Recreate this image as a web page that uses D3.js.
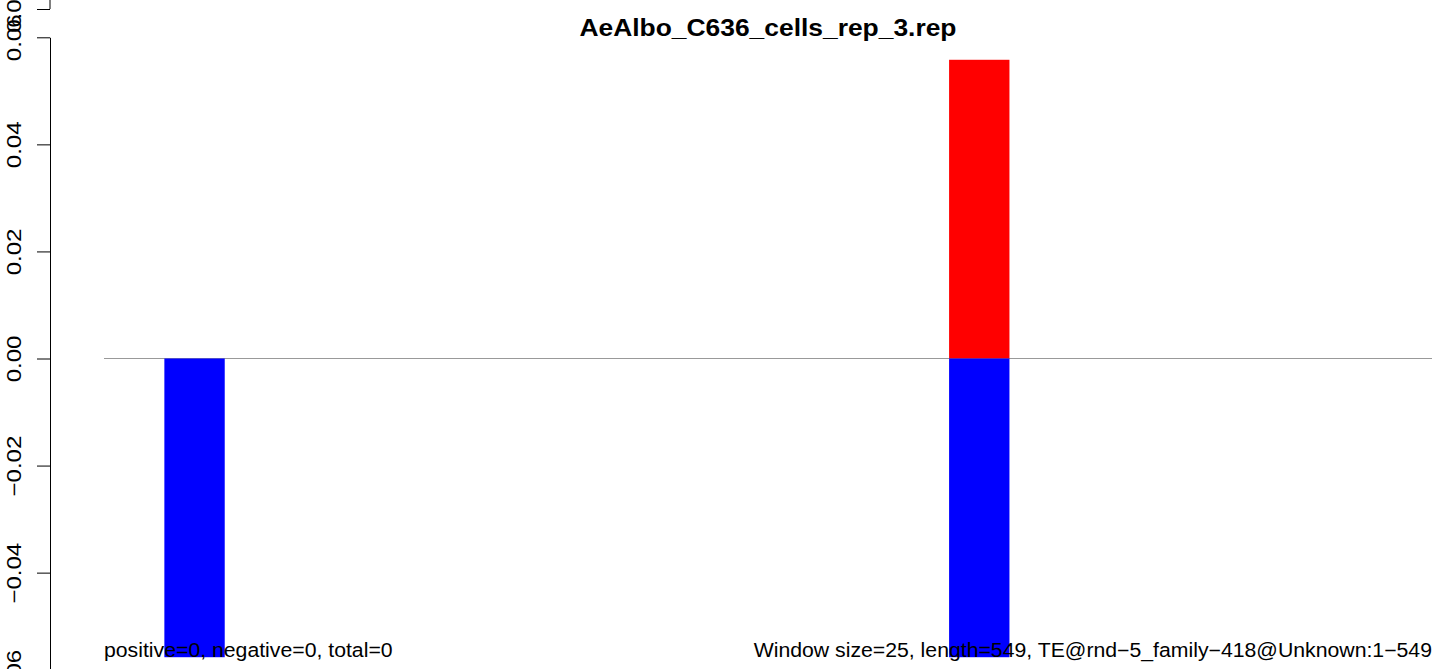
<!DOCTYPE html>
<html>
<head>
<meta charset="utf-8">
<script src="https://cdn.jsdelivr.net/npm/d3@7"></script>
<style>
html,body{margin:0;padding:0;background:#fff;}
svg{display:block;}
text{font-family:"Liberation Sans",Arial,Helvetica,sans-serif;fill:#000;}
</style>
</head>
<body>
<svg id="chart" width="1433" height="669"></svg>
<script>
// ---- data ----
const title = "AeAlbo_C636_cells_rep_3.rep";
const windowSize = 25;
const teLength = 550;
// window start positions along the TE
const windowStarts = [25, 350];
// positive (sense) and negative (antisense) values per window
const positiveValues = [0, 0.0558];
const negativeValues = [-0.0558, -0.0558];
const yTicks = [-0.06, -0.04, -0.02, 0.00, 0.02, 0.04, 0.06];
const prevPanelTicks = [0.06];
const leftNote = "positive=0, negative=0, total=0";
const rightNote = "Window size=25, length=549, TE@rnd\u22125_family\u2212418@Unknown:1\u2212549";

// ---- layout ----
const svg = d3.select("#chart");
const plotLeft = 104, plotRight = 1432;
const x = d3.scaleLinear().domain([0, teLength]).range([plotLeft, plotRight]);
const y = d3.scaleLinear().domain([-0.06, 0.06]).range([679.7, 37.3]);
// remnant axis of the panel above (only its lowest tick is visible)
const yPrev = d3.scaleLinear().domain([-0.06, 0.06]).range([651.4, 9]);

const fmt = v => (v < 0 ? "\u2212" : "") + Math.abs(v).toFixed(2);

// zero line
svg.append("line")
  .attr("x1", plotLeft).attr("x2", plotRight)
  .attr("y1", y(0)).attr("y2", y(0))
  .attr("stroke", "#999").attr("stroke-width", 1.2);

// bars
const bars = windowStarts.map((s, i) => ({s, pos: positiveValues[i], neg: negativeValues[i]}));
svg.append("g").selectAll("rect.pos").data(bars.filter(d => d.pos > 0)).join("rect")
  .attr("x", d => x(d.s)).attr("width", d => x(d.s + windowSize) - x(d.s))
  .attr("y", d => y(d.pos)).attr("height", d => y(0) - y(d.pos))
  .attr("fill", "#FF0000");
svg.append("g").selectAll("rect.neg").data(bars.filter(d => d.neg < 0)).join("rect")
  .attr("x", d => x(d.s)).attr("width", d => x(d.s + windowSize) - x(d.s))
  .attr("y", y(0)).attr("height", d => y(d.neg) - y(0))
  .attr("fill", "#0000FF");

// y axis
function drawAxis(scale, ticks, clipTop) {
  const g = svg.append("g").attr("transform", "translate(50,0)");
  g.call(d3.axisLeft(scale).tickValues(ticks).tickSize(13).tickSizeOuter(0).tickFormat(""));
  g.select(".domain").attr("stroke", "#000").attr("stroke-width", 1);
  g.selectAll(".tick line").attr("stroke", "#000").attr("stroke-width", 1);
  g.selectAll(".tick").append("text")
    .attr("transform", "translate(-29.5,0) rotate(-90) scale(1.2,1)")
    .attr("text-anchor", "middle")
    .attr("fill", "#000")
    .style("font-size", "20px")
    .style("font-family", "'Liberation Sans',Arial,sans-serif")
    .text(d => fmt(d));
  return g;
}
drawAxis(y, yTicks);
const gp = drawAxis(yPrev, prevPanelTicks);
// the panel-above axis line runs upward off the top
gp.select(".domain").attr("d", `M0,${yPrev(0.06)}V-5`);

// title
svg.append("text")
  .attr("x", (plotLeft + plotRight) / 2).attr("y", 36)
  .attr("text-anchor", "middle")
  .style("font-size", "24px").style("font-weight", "bold")
  .attr("transform", `translate(${(plotLeft + plotRight) / 2},0) scale(1.1,1) translate(${-(plotLeft + plotRight) / 2},0)`)
  .text(title);

// bottom notes
svg.append("text")
  .attr("x", plotLeft).attr("y", 657)
  .attr("transform", `translate(${plotLeft},0) scale(1.09,1) translate(${-plotLeft},0)`)
  .style("font-size", "19.5px")
  .text(leftNote);
svg.append("text")
  .attr("x", plotRight).attr("y", 657)
  .attr("text-anchor", "end")
  .attr("transform", `translate(${plotRight},0) scale(1.09,1) translate(${-plotRight},0)`)
  .style("font-size", "19.5px")
  .text(rightNote);
</script>
</body>
</html>
